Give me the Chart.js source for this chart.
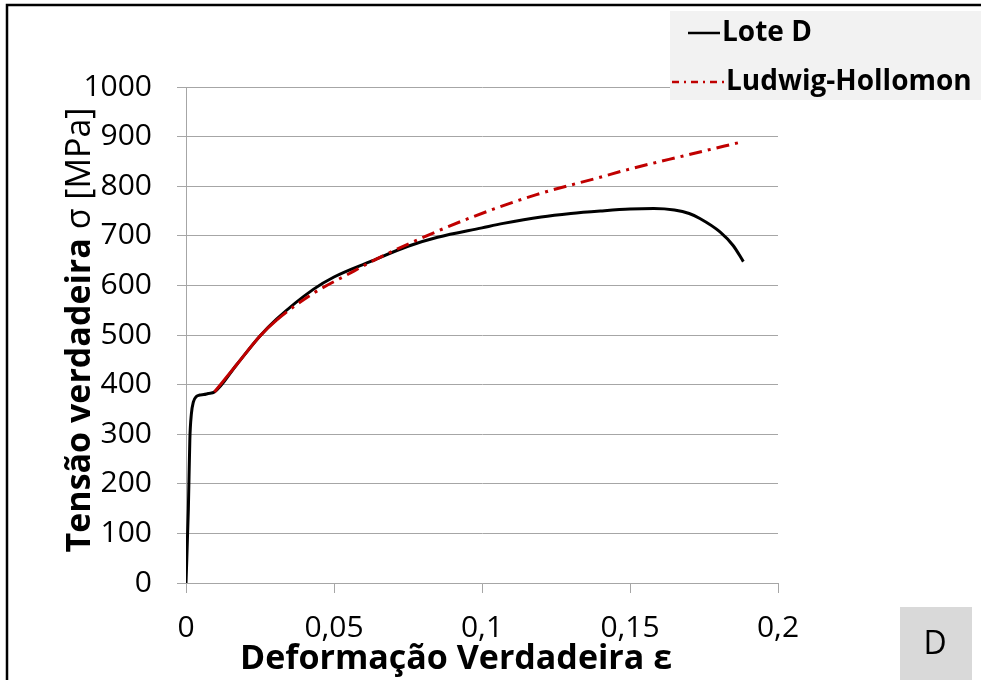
<!DOCTYPE html>
<html>
<head>
<meta charset="utf-8">
<script src="https://cdn.jsdelivr.net/npm/chart.js@4.4.1/dist/chart.umd.min.js"></script>
<style>
  html, body { margin: 0; padding: 0; background: #fff; }
  #wrap { width: 981px; height: 680px; position: relative; }
</style>
</head>
<body>
<div id="wrap"><canvas id="curvaTensao" width="981" height="680"></canvas></div>
<script>
// Lote D - curva experimental (deformação verdadeira x tensão verdadeira)
const epsLote = [0, 0.0008, 0.0013, 0.0018, 0.0025, 0.0035, 0.0047, 0.006, 0.0075, 0.0096,
  0.0171, 0.025, 0.0306, 0.043, 0.05, 0.0622, 0.075, 0.085, 0.1, 0.1072, 0.12, 0.13,
  0.14, 0.15, 0.158, 0.165, 0.17, 0.1736, 0.1804, 0.1849, 0.1883];
const sigLote = [0, 150, 290, 340, 365, 376, 379, 380, 382, 385,
  440, 498, 532, 592, 617, 648, 679, 697, 716, 725, 738, 745,
  750, 754, 755, 752, 745, 735, 708, 680, 648];

// ajuste Ludwig-Hollomon
const epsLH = [0.0096, 0.0171, 0.025, 0.0306, 0.043, 0.0543, 0.0633, 0.0768, 0.0959,
  0.1184, 0.1399, 0.1489, 0.168, 0.1883];
const sigLH = [385, 440, 498, 530, 584, 621, 650, 688, 736, 783, 818, 833, 861, 890];

const serieNomes = ["Lote D", "Ludwig-Hollomon"];
const xTitulo = "Deformação Verdadeira ε";
const yTituloBold = "Tensão verdadeira ";
const yTituloNormal = "σ [MPa]";
const rotulo = "D";

const pontos = (xs, ys) => xs.map((x, i) => ({ x: x, y: ys[i] }));

const corVermelho = "#c00000";
const tracoPonto = [13, 6, 3, 6];
const FONTE = "'Open Sans', sans-serif";

const extras = {
  id: "extras",
  afterDraw(chart) {
    const c = chart.ctx;
    c.save();
    // moldura
    c.strokeStyle = "#000";
    c.lineWidth = 2.5;
    c.beginPath();
    c.moveTo(7, 680);
    c.lineTo(7, 5);
    c.lineTo(981, 5);
    c.stroke();

    // titulo eixo y (negrito + normal)
    c.save();
    c.translate(80, 330);
    c.rotate(-Math.PI / 2);
    c.fillStyle = "#000";
    c.textBaseline = "middle";
    c.font = "bold 34px " + FONTE;
    const wb = c.measureText(yTituloBold).width;
    c.font = "34px " + FONTE;
    const wn = c.measureText(yTituloNormal).width;
    const x0 = -(wb + wn) / 2;
    c.font = "bold 34px " + FONTE;
    c.textAlign = "left";
    c.fillText(yTituloBold, x0, 0);
    c.font = "34px " + FONTE;
    c.fillText(yTituloNormal, x0 + wb, 0);
    c.restore();

    // titulo eixo x
    c.fillStyle = "#000";
    c.font = "bold 34px " + FONTE;
    c.textAlign = "center";
    c.textBaseline = "middle";
    c.fillText(xTitulo, 456, 659);

    // legenda
    c.fillStyle = "#f2f2f2";
    c.fillRect(670, 11, 311, 89);
    c.lineWidth = 2.5;
    c.strokeStyle = "#000";
    c.beginPath();
    c.moveTo(688, 33);
    c.lineTo(720, 33);
    c.stroke();
    c.strokeStyle = corVermelho;
    c.setLineDash([7, 5, 2, 5]);
    c.beginPath();
    c.moveTo(672, 82);
    c.lineTo(725, 82);
    c.stroke();
    c.setLineDash([]);
    c.fillStyle = "#000";
    c.font = "bold 28px " + FONTE;
    c.textAlign = "left";
    c.fillText(serieNomes[0], 722, 33);
    c.fillText(serieNomes[1], 726, 82);

    // rotulo D
    c.fillStyle = "#d9d9d9";
    c.fillRect(900, 607, 72, 73);
    c.fillStyle = "#000";
    c.font = "32px " + FONTE;
    c.textAlign = "center";
    c.fillText(rotulo, 935, 645);
    c.restore();
  }
};

new Chart(document.getElementById("curvaTensao"), {
  type: "line",
  data: {
    datasets: [
      {
        label: serieNomes[1],
        data: pontos(epsLH, sigLH),
        borderColor: corVermelho,
        borderWidth: 3,
        pointRadius: 0,
        cubicInterpolationMode: "monotone",
        segment: {
          borderDash: (ctx) => (ctx.p0.parsed.x < 0.03 ? [] : tracoPonto),
        },
        order: 0,
      },
      {
        label: serieNomes[0],
        data: pontos(epsLote, sigLote),
        borderColor: "#000",
        borderWidth: 3,
        pointRadius: 0,
        cubicInterpolationMode: "monotone",
        order: 1,
      },
    ],
  },
  options: {
    responsive: false,
    animation: false,
    devicePixelRatio: 1,
    layout: { padding: { left: 0, top: 87, right: 203, bottom: 0 } },
    plugins: { legend: { display: false }, tooltip: { enabled: false } },
    scales: {
      x: {
        type: "linear",
        min: 0,
        max: 0.2,
        ticks: {
          stepSize: 0.05,
          color: "#000",
          font: { family: FONTE, size: 30 },
          padding: 17,
          maxRotation: 0,
          callback: (v) => String(Math.round(v * 100) / 100).replace(".", ","),
        },
        grid: { drawOnChartArea: false, color: "#a6a6a6", tickLength: 10 },
        border: { color: "#a6a6a6" },
        afterFit: (s) => { s.height = 97; },
      },
      y: {
        min: 0,
        max: 1000,
        ticks: {
          stepSize: 100,
          color: "#000",
          font: { family: FONTE, size: 30 },
          padding: 25,
          callback: (v) => String(v),
        },
        grid: { color: "#a6a6a6", tickLength: 9 },
        border: { color: "#a6a6a6" },
        afterFit: (s) => { s.width = 186; },
      },
    },
  },
  plugins: [extras],
});
</script>
</body>
</html>
